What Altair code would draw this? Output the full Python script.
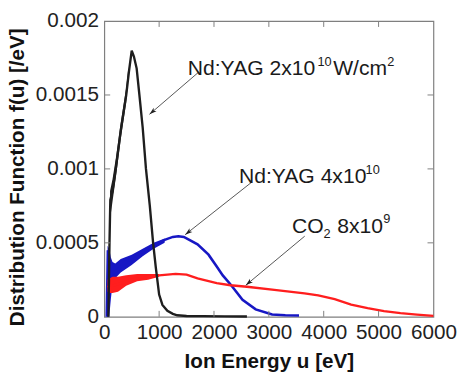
import math
import altair as alt
import pandas as pd

FONT = "Liberation Sans"
W, H = 335, 301
XMAX, YMAX = 6000, 0.002

# ---------------- data ----------------
black_u = [75, 95, 110, 150, 210, 300, 400, 450, 500, 540, 590, 640, 700, 760, 830, 890,
           940, 1000, 1060, 1150, 1250, 1330, 1500, 1800, 2200, 2600]
black_f = [0, 0.0005, 0.00079, 0.00085, 0.001, 0.00126, 0.0015, 0.00166, 0.0018, 0.00176,
           0.00168, 0.0015, 0.00128, 0.001, 0.00075, 0.0005, 0.00033, 0.00015, 0.00008,
           0.00004, 0.00002, 0.00001, 0.000005, 0.000004, 0.000003, 0.000002]
black_band_u = [105, 150, 210, 300, 400, 440]
black_band_lo = [0.00066, 0.00078, 0.00094, 0.0012, 0.00145, 0.00162]
black_band_hi = [0.00085, 0.00093, 0.00107, 0.00131, 0.00155, 0.00169]

blue_u = [45, 65, 80, 100, 130, 180, 250, 350, 500, 700, 900, 1100, 1250, 1350, 1450, 1550,
          1700, 1900, 2050, 2160, 2310, 2520, 2760, 3060, 3300, 3550]
blue_f = [0, 0.00045, 0.0004, 0.00033, 0.00028, 0.0003, 0.00032, 0.00036, 0.0004, 0.00044,
          0.00048, 0.00052, 0.00054, 0.000545, 0.00054, 0.00052, 0.00049, 0.00042, 0.00034,
          0.00028, 0.000215, 0.000115, 0.00005, 0.000015, 0.00001, 0.000008]
blue_band_u = [60, 90, 120, 150, 200, 300, 500, 700, 900, 1100]
blue_band_lo = [0.0, 0.0, 0.00012, 0.00022, 0.00026, 0.0003, 0.00035, 0.00041, 0.00046, 0.0005]
blue_band_hi = [0.00048, 0.00046, 0.0004, 0.00037, 0.00036, 0.00039, 0.00042, 0.00046, 0.0005, 0.00053]

red_u = [60, 100, 150, 250, 400, 600, 800, 1000, 1300, 1500, 1700, 2050, 2300, 2600, 3100,
         3650, 3900, 4200, 4500, 4800, 5100, 5400, 5700, 6000]
red_f = [0.0002, 0.00021, 0.00021, 0.00022, 0.00024, 0.00026, 0.00027, 0.00028, 0.00029,
         0.000285, 0.00026, 0.000228, 0.000213, 0.000203, 0.000182, 0.000158, 0.000145,
         0.00012, 0.000082, 0.000058, 0.000038, 0.000025, 0.000015, 0.000006]
red_band_u = [60, 100, 150, 250, 400, 600, 800, 1000]
red_band_lo = [0.00017, 0.00016, 0.00016, 0.00017, 0.00021, 0.00024, 0.00025, 0.00027]
red_band_hi = [0.00025, 0.00026, 0.00027, 0.00027, 0.00028, 0.00029, 0.00029, 0.00029]

x_ticks = [0, 1000, 2000, 3000, 4000, 5000, 6000]
y_ticks = [0, 0.0005, 0.001, 0.0015, 0.002]
x_inner_ticks = [1000, 2000, 3000, 4000, 5000]
y_inner_ticks = [0.0005, 0.001, 0.0015]

# annotations (data coordinates)
arrow_start_u = [1719, 2687, 3654]
arrow_start_f = [0.001654, 0.000910, 0.000545]
arrow_tip_u = [824, 1474, 2579]
arrow_tip_f = [0.001369, 0.000555, 0.000213]

main_text = ["Nd:YAG 2x10", "W/cm", "Nd:YAG 4x10", "CO", "8x10"]
main_u = [1522, 4173, 2454, 3421, 4245]
main_f = [0.001635, 0.001635, 0.000902, 0.000569, 0.000569]
small_text = ["10", "2", "10", "2", "9"]
small_u = [3887, 5158, 4764, 3994, 5087]
small_f = [0.001694, 0.001694, 0.000963, 0.000532, 0.000631]

# ---------------- chart ----------------
xs = alt.Scale(domain=[0, XMAX], nice=False, zero=False)
ys = alt.Scale(domain=[0, YMAX], nice=False)

x_axis = alt.Axis(values=x_ticks, format="d", title="Ion Energy u [eV]",
                  labelFont=FONT, labelFontSize=21, labelColor="#222", labelPadding=5,
                  labelFlush=False, labelOverlap=False,
                  domain=False, ticks=False, grid=False,
                  titleFont=FONT, titleFontSize=21, titleFontWeight="bold", titleColor="#111",
                  titleX=W / 2, titleY=52, titleBaseline="alphabetic")
y_axis = alt.Axis(values=y_ticks, labelExpr="toString(datum.value)",
                  title="Distribution Function f(u) [/eV]",
                  labelFont=FONT, labelFontSize=21, labelColor="#222", labelPadding=6,
                  labelFlush=False, labelOverlap=False,
                  domain=False, ticks=False, grid=False,
                  titleFont=FONT, titleFontSize=21, titleFontWeight="bold", titleColor="#111",
                  titleAngle=270, titleX=-82, titleY=H / 2 + 8, titleAlign="center",
                  titleBaseline="alphabetic")

X = alt.X("u:Q", scale=xs, axis=x_axis)
Y = alt.Y("f:Q", scale=ys, axis=y_axis)


def df(u, f):
    return pd.DataFrame({"u": u, "f": f})


def band(u, lo, hi, color):
    d = pd.DataFrame({"u": u, "f": lo, "f2": hi})
    return alt.Chart(d).mark_area(color=color, opacity=1).encode(x=X, y=Y, y2="f2:Q")


def line(u, f, color, w):
    return alt.Chart(df(u, f)).mark_line(color=color, strokeWidth=w).encode(x=X, y=Y)


BLACK, BLUE, RED = "#1e1e1e", "#1717c4", "#ff1e1e"

layers = [
    band(blue_band_u, blue_band_lo, blue_band_hi, BLUE),
    line(blue_u, blue_f, BLUE, 2.6),
    band(red_band_u, red_band_lo, red_band_hi, RED),
    line(red_u, red_f, RED, 2.4),
    band(black_band_u, black_band_lo, black_band_hi, BLACK),
    line(black_u, black_f, BLACK, 2.4),
]

# arrows
ad = pd.DataFrame({"u": arrow_start_u, "f": arrow_start_f, "u2": arrow_tip_u, "f2": arrow_tip_f})
layers.append(alt.Chart(ad).mark_rule(color="#555", strokeWidth=1).encode(
    x=X, y=Y, x2="u2:Q", y2="f2:Q"))
angles = []
for su, sf, tu, tf in zip(arrow_start_u, arrow_start_f, arrow_tip_u, arrow_tip_f):
    dx = (tu - su) / XMAX * W
    dy = -(tf - sf) / YMAX * H
    angles.append(math.degrees(math.atan2(dx, -dy)) % 360)
hd = pd.DataFrame({"u": arrow_tip_u, "f": arrow_tip_f, "angle": angles})
layers.append(alt.Chart(hd).mark_point(
    shape="M0,0L-0.55,1.8L0,1.35L0.55,1.8Z", filled=True, size=70, color="#222",
    opacity=1, strokeWidth=0).encode(x=X, y=Y, angle=alt.Angle("angle:Q", scale=None)))

# annotation text
td = pd.DataFrame({"u": main_u, "f": main_f, "t": main_text})
layers.append(alt.Chart(td).mark_text(align="left", baseline="alphabetic", font=FONT,
                                      fontSize=21.5, color="#1a1a1a").encode(x=X, y=Y, text="t:N"))
sd = pd.DataFrame({"u": small_u, "f": small_f, "t": small_text})
layers.append(alt.Chart(sd).mark_text(align="left", baseline="alphabetic", font=FONT,
                                      fontSize=13, color="#1a1a1a").encode(x=X, y=Y, text="t:N"))

# inward ticks
TC = "#808080"
xt = pd.DataFrame({"u": x_inner_ticks})
yt = pd.DataFrame({"f": y_inner_ticks})
layers.append(alt.Chart(xt).mark_rule(color=TC, strokeWidth=1).encode(
    x=X, y=alt.value(H), y2=alt.value(H - 6)))
layers.append(alt.Chart(xt).mark_rule(color=TC, strokeWidth=1).encode(
    x=X, y=alt.value(0), y2=alt.value(6)))
layers.append(alt.Chart(yt).mark_rule(color=TC, strokeWidth=1).encode(
    y=Y, x=alt.value(0), x2=alt.value(6)))
layers.append(alt.Chart(yt).mark_rule(color=TC, strokeWidth=1).encode(
    y=Y, x=alt.value(W), x2=alt.value(W - 6)))

chart = alt.layer(*layers).properties(
    width=W, height=H,
    autosize=alt.AutoSizeParams(type="none"),
    padding={"left": 98, "top": 10, "right": 24, "bottom": 56},
    background="white",
).configure_view(stroke="#7f7f7f", strokeWidth=1.2)

chart.save("out.html", embed_options={"renderer": "svg", "actions": False})
